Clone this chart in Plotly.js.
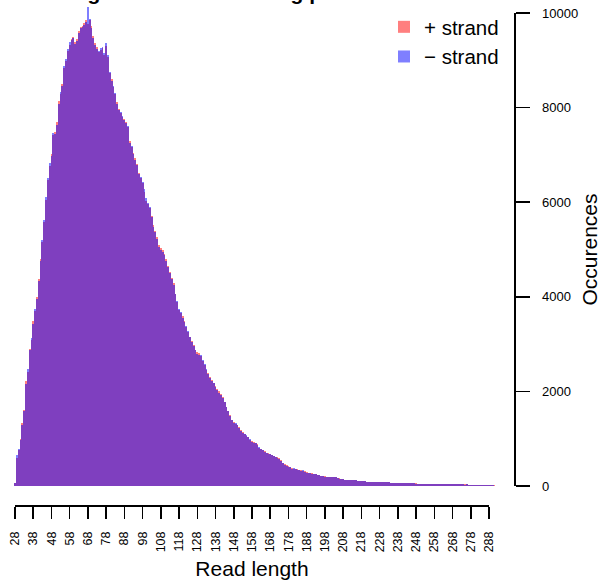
<!DOCTYPE html>
<html><head><meta charset="utf-8">
<script src="https://cdn.plot.ly/plotly-3.0.1.min.js"></script>
<style>html,body{margin:0;padding:0;background:#fff}#chart{width:601px;height:581px}</style>
</head><body><div id="chart"></div>
<script>
const readLengths = [28,29,30,31,32,33,34,35,36,37,38,39,40,41,42,43,44,45,46,47,48,49,50,51,52,53,54,55,56,57,58,59,60,61,62,63,64,65,66,67,68,69,70,71,72,73,74,75,76,77,78,79,80,81,82,83,84,85,86,87,88,89,90,91,92,93,94,95,96,97,98,99,100,101,102,103,104,105,106,107,108,109,110,111,112,113,114,115,116,117,118,119,120,121,122,123,124,125,126,127,128,129,130,131,132,133,134,135,136,137,138,139,140,141,142,143,144,145,146,147,148,149,150,151,152,153,154,155,156,157,158,159,160,161,162,163,164,165,166,167,168,169,170,171,172,173,174,175,176,177,178,179,180,181,182,183,184,185,186,187,188,189,190,191,192,193,194,195,196,197,198,199,200,201,202,203,204,205,206,207,208,209,210,211,212,213,214,215,216,217,218,219,220,221,222,223,224,225,226,227,228,229,230,231,232,233,234,235,236,237,238,239,240,241,242,243,244,245,246,247,248,249,250,251,252,253,254,255,256,257,258,259,260,261,262,263,264,265,266,267,268,269,270,271,272,273,274,275,276,277,278,279,280,281,282,283,284,285,286,287,288,289,290,291];

const plusStrand = [60,600,760,1000,1340,1600,2220,2420,2900,3080,3490,3700,3990,4380,4790,5150,5580,6050,6480,6760,7020,7420,7480,7700,8150,8280,8500,8830,8980,9190,9330,9450,9500,9380,9440,9620,9700,9730,9780,9860,9760,9850,9720,9520,9360,9280,9170,9220,9260,9120,9300,9080,8730,8600,8430,8280,8120,7980,7880,7800,7760,7700,7600,7290,7160,7050,6930,6800,6610,6510,6400,6220,6030,5960,5880,5700,5520,5400,5260,5090,5040,4990,4910,4800,4660,4530,4400,4300,4050,3900,3720,3650,3590,3480,3360,3260,3150,3060,2980,2880,2840,2820,2740,2640,2550,2460,2380,2300,2250,2180,2120,2060,2000,1950,1890,1780,1670,1580,1500,1400,1350,1320,1290,1240,1180,1140,1090,1060,1030,980,950,920,910,880,810,790,770,730,700,690,680,660,640,620,610,590,540,490,460,440,420,410,380,370,360,350,340,330,320,310,290,280,275,265,255,245,240,230,215,210,205,200,195,195,190,190,180,170,160,150,140,135,135,130,128,125,120,118,110,105,102,100,97,95,93,92,90,88,87,86,85,84,82,80,78,76,74,72,71,70,68,66,64,62,60,58,57,56,55,54,53,51,50,49,48,47,46,45,44,44,43,42,41,40,40,39,38,37,37,36,36,35,35,34,34,33,33,32,32,31,31,31,30,30,30,29,29,29,28,28,28,27,27,25];

const minusStrand = [70,660,790,980,1300,1580,2150,2480,2880,3120,3420,3740,3950,4330,4760,5210,5630,6120,6520,6820,6980,7460,7450,7640,8080,8320,8460,8870,9020,9230,9380,9420,9470,9340,9400,9570,9680,9700,9740,9820,10130,9870,9680,9480,9330,9240,9190,9260,9290,9150,9370,9120,8760,8570,8460,8300,8080,7950,7900,7830,7740,7680,7620,7260,7180,7020,6900,6780,6590,6530,6430,6270,6080,5990,5900,5680,5480,5380,5230,5060,5000,4950,4880,4760,4620,4500,4380,4260,4060,3920,3750,3670,3560,3470,3380,3280,3160,3040,2950,2870,2800,2770,2760,2660,2570,2470,2370,2290,2230,2170,2100,2040,1970,1920,1870,1770,1680,1590,1490,1390,1340,1330,1280,1230,1170,1130,1100,1070,1040,1000,940,910,900,870,820,780,760,720,690,680,670,650,630,610,600,580,530,480,450,430,410,400,370,375,350,340,335,325,330,305,285,275,270,260,250,250,235,225,210,205,200,195,200,190,195,185,185,165,155,150,145,130,130,128,125,122,122,120,108,104,103,98,98,94,94,90,91,87,88,85,86,83,81,79,77,75,73,72,70,69,67,65,63,61,59,58,56,56,54,53,52,50,50,48,48,46,46,44,45,43,43,41,41,39,40,38,38,36,37,35,36,34,35,33,34,32,33,31,32,30,31,30,29,30,28,29,28,28,27,27,26,26,24];

const xTickLabels = [28,38,48,58,68,78,88,98,108,118,128,138,148,158,168,178,188,198,208,218,228,238,248,258,268,278,288];
const yTickLabels = [0,2000,4000,6000,8000,10000];
const seriesNames = ['+ strand', '\u2212 strand'];
const seriesColors = ['rgba(255,0,0,0.5)', 'rgba(0,0,255,0.5)'];
const titleText = 'Read length distribution using per-strand read counts';
const xTitle = 'Read length';
const yTitle = 'Occurences';

const W = 601, H = 581;
const fx = p => p / W;
const fy = p => 1 - p / H;
// pixel geometry (layout only)
const xScale = 474 / 260;            // px per length unit
const yScale = 473 / 10000;          // px per count
const r0 = 28 - 15 / xScale;
const r1 = r0 + 510 / xScale;
const yTop = 486 / yScale;

const font = 'Liberation Sans, Arial, Helvetica, sans-serif';

const traces = [
  {type: 'bar', x: readLengths, y: plusStrand, name: seriesNames[0],
   marker: {color: seriesColors[0], line: {width: 0}}, xaxis: 'x', yaxis: 'y', hoverinfo: 'x+y'},
  {type: 'bar', x: readLengths, y: minusStrand, name: seriesNames[1],
   marker: {color: seriesColors[1], line: {width: 0}}, xaxis: 'x', yaxis: 'y', hoverinfo: 'x+y'},
  {type: 'scatter', mode: 'none', x: readLengths, y: plusStrand, xaxis: 'x2', yaxis: 'y2',
   showlegend: false, hoverinfo: 'skip'}
];

const layout = {
  width: W, height: H,
  margin: {l: 0, r: 0, t: 0, b: 0, pad: 0},
  paper_bgcolor: '#ffffff', plot_bgcolor: 'rgba(0,0,0,0)',
  font: {family: font, color: '#000', size: 12},
  barmode: 'overlay', bargap: 0,
  title: {text: '<b>' + titleText + '</b>', font: {family: font, size: 21, color: '#000'},
          xref: 'container', x: 0, xanchor: 'left', yref: 'container', y: 1, yanchor: 'bottom',
          pad: {t: 0, b: 0, l: 0, r: 0}},
  showlegend: true,
  legend: {x: fx(384), xanchor: 'left', y: fy(7), yanchor: 'top', bgcolor: 'rgba(0,0,0,0)',
           font: {family: font, size: 20.5, color: '#000'}, itemwidth: 30, tracegroupgap: 0},
  xaxis: {domain: [0, fx(510)], range: [r0, r1], visible: false, fixedrange: true},
  yaxis: {domain: [fy(486), 1], range: [0, yTop], visible: false, fixedrange: true},
  xaxis2: {domain: [fx(15), fx(489)], range: [28, 288], anchor: 'free', position: fy(505),
           showline: true, linecolor: '#000', linewidth: 1.5, ticks: 'outside', ticklen: 12,
           tickwidth: 1.5, tickcolor: '#000', tickvals: xTickLabels, ticktext: xTickLabels.map(String),
           tickangle: -90, tickfont: {family: font, size: 12.5, color: '#000'}, showgrid: false,
           zeroline: false, ticklabelstandoff: 8, fixedrange: true,
           title: {text: xTitle, font: {family: font, size: 21, color: '#000'}, standoff: 10}},
  yaxis2: {domain: [fy(486), fy(13)], range: [0, 10000], anchor: 'free', position: fx(514), side: 'right',
           showline: true, linecolor: '#000', linewidth: 1.5, ticks: 'outside', ticklen: 14,
           tickwidth: 1.5, tickcolor: '#000', tickvals: yTickLabels, ticktext: yTickLabels.map(String),
           tickfont: {family: font, size: 13, color: '#000'}, showgrid: false, zeroline: false,
           ticklabelstandoff: 10, fixedrange: true,
           title: {text: yTitle, font: {family: font, size: 21, color: '#000'}, standoff: 6}}
};

Plotly.newPlot('chart', traces, layout, {displayModeBar: false, staticPlot: true});
</script>
</body></html>
